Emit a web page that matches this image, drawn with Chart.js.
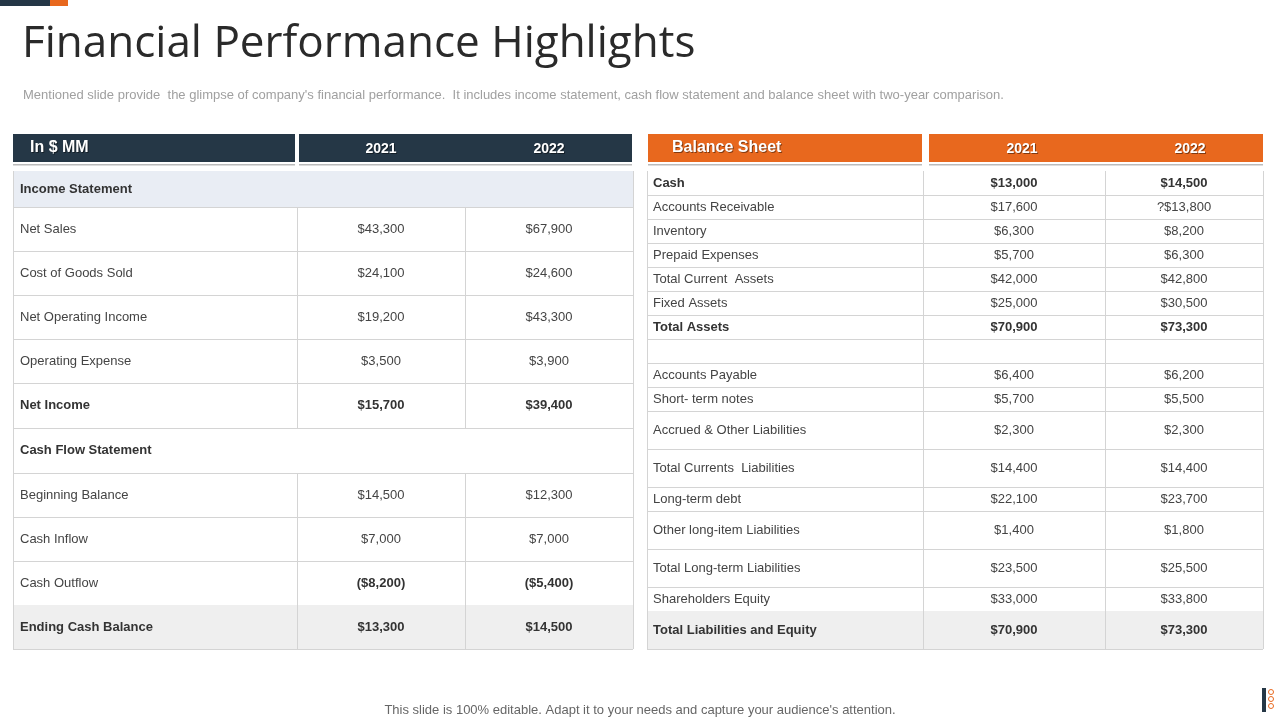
<!DOCTYPE html>
<html><head><meta charset="utf-8">
<script src="https://cdn.jsdelivr.net/npm/chart.js@4.4.0/dist/chart.umd.min.js"></script>
<style>html,body{margin:0;padding:0;background:#fff;}#wrap{width:1280px;height:720px;position:relative;}</style>
</head><body><div id="wrap"><canvas id="c" width="1280" height="720"></canvas></div>
<script>
const title = "Financial Performance Highlights";
const subtitle = "Mentioned slide provide  the glimpse of company's financial performance.  It includes income statement, cash flow statement and balance sheet with two-year comparison.";
const footer = "This slide is 100% editable. Adapt it to your needs and capture your audience's attention.";
const years = ["2021", "2022"];
const leftHeader = "In $ MM";
const leftRows = ["Income Statement","Net Sales","Cost of Goods Sold","Net Operating Income","Operating Expense","Net Income","Cash Flow Statement","Beginning Balance","Cash Inflow","Cash Outflow","Ending Cash Balance"];
const left2021 = ["", "$43,300","$24,100","$19,200","$3,500","$15,700","","$14,500","$7,000","($8,200)","$13,300"];
const left2022 = ["", "$67,900","$24,600","$43,300","$3,900","$39,400","","$12,300","$7,000","($5,400)","$14,500"];
const rightHeader = "Balance Sheet";
const rightRows = ["Cash","Accounts Receivable","Inventory","Prepaid Expenses","Total Current  Assets","Fixed Assets","Total Assets","","Accounts Payable","Short- term notes","Accrued & Other Liabilities","Total Currents  Liabilities","Long-term debt","Other long-item Liabilities","Total Long-term Liabilities","Shareholders Equity","Total Liabilities and Equity"];
const right2021 = ["$13,000","$17,600","$6,300","$5,700","$42,000","$25,000","$70,900","","$6,400","$5,700","$2,300","$14,400","$22,100","$1,400","$23,500","$33,000","$70,900"];
const right2022 = ["$14,500","?$13,800","$8,200","$6,300","$42,800","$30,500","$73,300","","$6,200","$5,500","$2,300","$14,400","$23,700","$1,800","$25,500","$33,800","$73,300"];

// layout (style, not data)
const leftEdges = [171,207,251,295,339,383,428,473,517,561,605,649];
const leftBoldLabel = new Set([0,5,6,10]);
const leftBoldVal = new Set([5,9,10]);
const rightEdges = [171,195,219,243,267,291,315,339,363,387,411,449,487,511,549,587,611,649];
const rightBold = new Set([0,6,16]);

const tablePlugin = {
  id:'tbl',
  afterDraw(chart){
    const ctx = chart.ctx, X = chart.scales.x, Y = chart.scales.y;
    const px = v => X.getPixelForValue(v), py = v => Y.getPixelForValue(v);
    const F = "'Liberation Sans', Arial, sans-serif";
    ctx.save();
    ctx.fillStyle='#253746'; ctx.fillRect(px(0),py(0),px(50)-px(0),py(6)-py(0));
    ctx.fillStyle='#e8681e'; ctx.fillRect(px(50),py(0),px(68)-px(50),py(6)-py(0));
    ctx.fillStyle='#2a2a2a'; ctx.font="400 44px 'Open Sans', sans-serif"; ctx.textBaseline='middle'; ctx.textAlign='left';
    ctx.fillText(title, px(22), py(44));
    ctx.fillStyle='#a0a0a0'; ctx.font="13px "+F; ctx.fillText(subtitle, px(23), py(95));
    ctx.textAlign='center'; ctx.fillStyle='#666'; ctx.font="13px "+F; ctx.fillText(footer, px(640), py(710));
    ctx.fillStyle='#253746'; ctx.fillRect(px(1262),py(688),4,py(712)-py(688));
    ctx.strokeStyle='#e8681e'; ctx.lineWidth=1;
    [692,699,706].forEach(y=>{ctx.beginPath();ctx.arc(px(1271),py(y),2.5,0,Math.PI*2);ctx.stroke();});

    function hdr(x0,x1,color){
      ctx.fillStyle=color; ctx.fillRect(px(x0),py(134),px(x1)-px(x0),py(162)-py(134));
      ctx.fillStyle='#bbb'; ctx.fillRect(px(x0),py(164),px(x1)-px(x0),1.5);
    }
    function htext(t,x,y,align,size){
      ctx.textAlign=align; ctx.font="bold "+size+"px "+F;
      ctx.fillStyle='rgba(0,0,0,0.45)'; ctx.fillText(t,px(x)+1,py(y)+1);
      ctx.fillStyle='#fff'; ctx.fillText(t,px(x),py(y));
    }
    hdr(13,295,'#253746'); hdr(299,632,'#253746');
    htext(leftHeader,30,148,'left',16); htext(years[0],381,149,'center',14); htext(years[1],549,149,'center',14);
    hdr(648,922,'#e8681e'); hdr(929,1263,'#e8681e');
    htext(rightHeader,672,148,'left',16); htext(years[0],1022,149,'center',14); htext(years[1],1190,149,'center',14);

    function table(labels,a,b,edges,boldL,boldV,xL,xR,c1,c2,cx1,cx2,sections,nodiv,shaded,labelX,fs){
      for(let i=0;i<labels.length;i++){
        const y0=edges[i], y1=edges[i+1], ym=(y0+y1)/2;
        if(sections.has(i)){ctx.fillStyle='#e9edf4';ctx.fillRect(px(xL),py(y0),px(xR)-px(xL),py(y1)-py(y0));}
        if(shaded.has(i)){ctx.fillStyle='#efefef';ctx.fillRect(px(xL),py(y0),px(xR)-px(xL),py(y1)-py(y0));}
        ctx.strokeStyle='#d4d4d4'; ctx.lineWidth=1;
        ctx.beginPath(); ctx.moveTo(px(xL),py(y1)+0.5); ctx.lineTo(px(xR),py(y1)+0.5); ctx.stroke();
        if(!nodiv.has(i)){
          ctx.beginPath(); ctx.moveTo(px(c1)+0.5,py(y0)); ctx.lineTo(px(c1)+0.5,py(y1));
          ctx.moveTo(px(c2)+0.5,py(y0)); ctx.lineTo(px(c2)+0.5,py(y1)); ctx.stroke();
        }
        ctx.fillStyle = boldL.has(i) ? '#333' : '#444';
        ctx.font=(boldL.has(i)?"bold ":"")+fs+"px "+F;
        ctx.textAlign='left'; ctx.fillText(labels[i], px(labelX), py(ym));
        ctx.fillStyle = boldV.has(i) ? '#333' : '#444';
        ctx.font=(boldV.has(i)?"bold ":"")+fs+"px "+F;
        ctx.textAlign='center'; ctx.fillText(a[i], px(cx1), py(ym)); ctx.fillText(b[i], px(cx2), py(ym));
      }
      ctx.strokeStyle='#d4d4d4';
      ctx.beginPath(); ctx.moveTo(px(xL)+0.5,py(edges[0])); ctx.lineTo(px(xL)+0.5,py(edges[edges.length-1]));
      ctx.moveTo(px(xR)+0.5,py(edges[0])); ctx.lineTo(px(xR)+0.5,py(edges[edges.length-1])); ctx.stroke();
    }
    table(leftRows,left2021,left2022,leftEdges,leftBoldLabel,leftBoldVal,13,633,297,465,381,549,new Set([0]),new Set([0,6]),new Set([10]),20,13);
    table(rightRows,right2021,right2022,rightEdges,rightBold,rightBold,647,1263,923,1105,1014,1184,new Set(),new Set(),new Set([16]),653,13);
    ctx.restore();
  }
};

new Chart(document.getElementById('c'),{
  type:'scatter',
  data:{datasets:[{data:[]}]},
  options:{
    responsive:false, animation:false, events:[],
    layout:{padding:0},
    plugins:{legend:{display:false},tooltip:{enabled:false}},
    scales:{
      x:{type:'linear',min:0,max:1280,display:false},
      y:{type:'linear',min:0,max:720,reverse:true,display:false}
    }
  },
  plugins:[tablePlugin]
});
</script></body></html>
